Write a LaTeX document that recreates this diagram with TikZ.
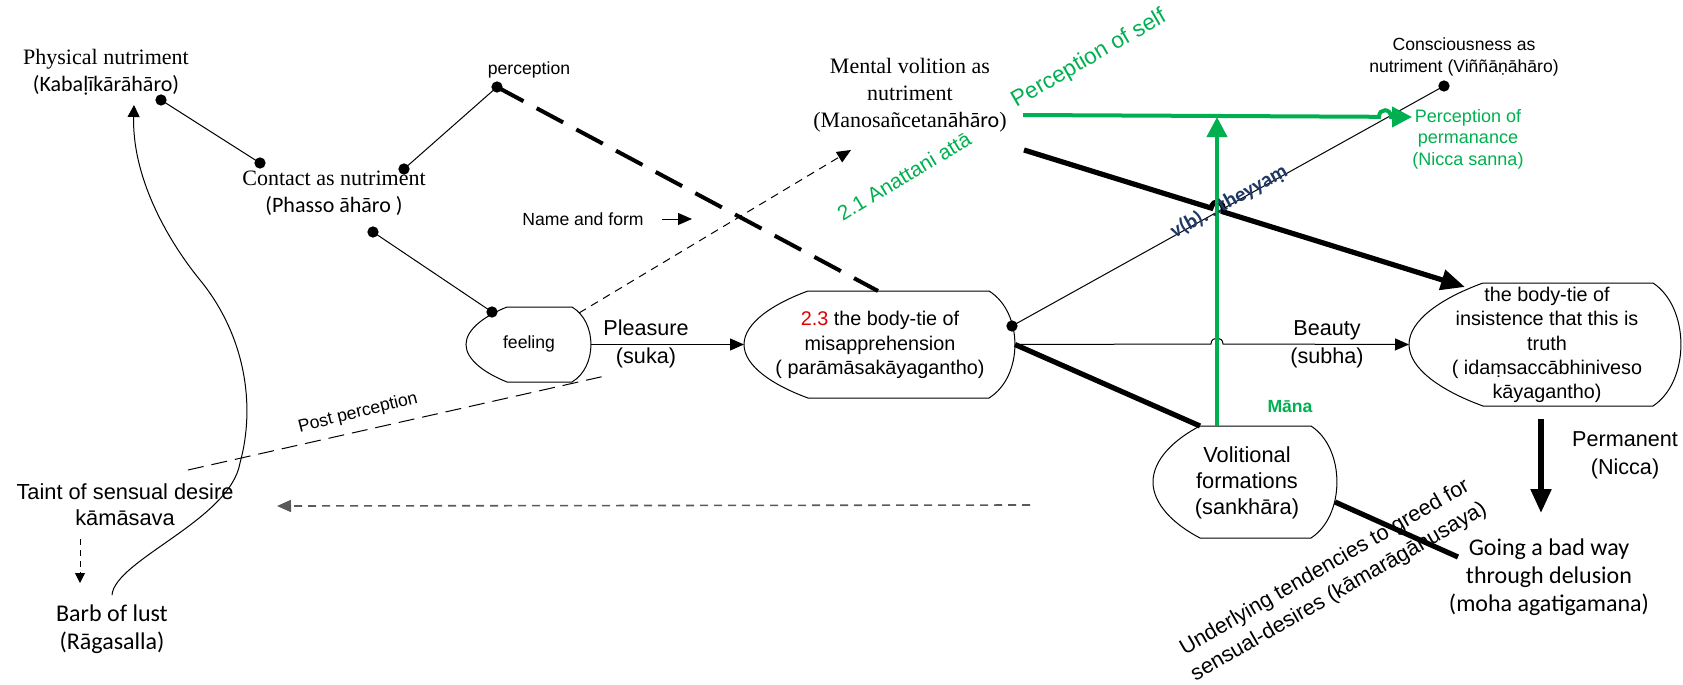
\documentclass[tikz,border=0pt]{standalone}
\usepackage{fontspec}
\setmainfont{Liberation Sans}
\newfontfamily\tnr{Liberation Serif}
\newfontfamily\calib{Carlito}
\usetikzlibrary{arrows.meta}
\definecolor{vgreen}{RGB}{0,176,80}
\definecolor{vred}{RGB}{220,0,0}
\definecolor{vblue}{RGB}{31,56,100}
\definecolor{vgray}{RGB}{90,90,90}

% outline of a gantho box: name, left point, top-left, top-right, right, top, bottom
\newcommand{\gantho}[7]{%
  \draw[link] (#3,#6) -- (#4,#6)
    .. controls ({#4+1.33*(#5-#4)},{#6+0.2*(#7-#6)}) and ({#4+1.33*(#5-#4)},{#7-0.2*(#7-#6)}) .. (#4,#7)
    -- (#3,#7)
    .. controls ({#3-0.55*(#3-#2)},{#7-0.12*(#7-#6)}) and (#2,{(#6+#7)/2+0.2*(#7-#6)}) .. (#2,{(#6+#7)/2})
    .. controls (#2,{(#6+#7)/2-0.2*(#7-#6)}) and ({#3-0.55*(#3-#2)},{#6+0.12*(#7-#6)}) .. (#3,#6) -- cycle;
  \coordinate (#1-w) at (#2,{(#6+#7)/2});
  \coordinate (#1-e) at (#5,{(#6+#7)/2});
}

\begin{document}
\begin{tikzpicture}[x=0.5pt,y=-0.5pt,
    link/.style={line width=0.5pt},
    heavy/.style={line width=2.6pt},
    gline/.style={line width=2pt, draw=vgreen},
    arr/.style={-{Triangle[length=7pt,width=6pt]}},
    bigarr/.style={-{Triangle[length=12pt,width=10pt]}},
    garr/.style={-{Triangle[length=10pt,width=10pt]}},
    lbl/.style={font=\fontsize{10.8}{14}\selectfont, align=center, inner sep=0pt},
    mlbl/.style={font=\fontsize{9.9}{12.2}\selectfont, align=center, inner sep=0pt},
    small/.style={font=\fontsize{8.8}{11}\selectfont, align=center, inner sep=0pt},
    tlbl/.style={font=\tnr\fontsize{11}{13.5}\selectfont, align=center, inner sep=0pt},
    clbl/.style={font=\calib\fontsize{12}{14}\selectfont, align=center, inner sep=0pt}]
    \useasboundingbox (0,0) rectangle (1683,685);

    \coordinate (kdot) at (161,100);
    \coordinate (cdota) at (260,163);
    \coordinate (cdotb) at (404,169);
    \coordinate (pdot) at (497,87);
    \coordinate (cdotc) at (373,232);
    \coordinate (fdot) at (492,312);
    \coordinate (mdot) at (1012,326);
    \coordinate (vdot) at (1444,86);

    \coordinate (feelne) at (579,313);
    \coordinate (nmtip) at (851,150);
    \coordinate (nfa) at (662,219);
    \coordinate (nfb) at (692,219);
    \coordinate (misaptop) at (878,291);
    \coordinate (volitnw) at (1200,426);
    \coordinate (volittop) at (1217,426);
    \coordinate (volitout) at (1335,502);
    \coordinate (goingin) at (1458,557);
    \coordinate (truthbot) at (1541,419);
    \coordinate (permtip) at (1541,513);
    \coordinate (truthin) at (1465,287);
    \coordinate (mvola) at (1023,115);
    \coordinate (mvolb) at (1024,150);
    \coordinate (gtip) at (1217,117);
    \coordinate (gend) at (1412,117);
    \coordinate (graya) at (1030,505);
    \coordinate (grayb) at (277,506);
    \coordinate (ppa) at (188,470);
    \coordinate (ppb) at (605,376);
    \coordinate (tainta) at (80,539);
    \coordinate (taintb) at (80,583);
    \coordinate (barbtop) at (112,595);
    \coordinate (kabtip) at (134,105);

    \gantho{feel}{466}{507}{572}{591}{307}{382}
    \gantho{misap}{744}{808}{989}{1015}{291}{398}
    \gantho{truth}{1409}{1483}{1653}{1681}{283}{406}
    \gantho{volit}{1153}{1200}{1311}{1337}{426}{538}

    \draw[link] (kdot) -- (cdota);
    \draw[link] (cdotb) -- (pdot);
    \draw[link] (cdotc) -- (fdot);
    \draw[line width=2pt, dash pattern=on 15pt off 7.5pt] (pdot) -- (misaptop);
    \draw[link, dash pattern=on 4pt off 3pt, arr] (feelne) -- (nmtip);
    \draw[link, arr] (nfa) -- (nfb);
    \draw[link, arr] (feel-e) -- (misap-w);
    \draw[link, arr] (misap-e) -- (1211,344) .. controls (1211,336) and (1223,336) .. (1223,344) -- (truth-w);
    \draw[link] (mdot) -- (vdot);
    \draw[heavy] (misap-e) -- (volitnw);
    \draw[heavy, bigarr] (mvolb) -- (1211,208) .. controls (1213.4,198) and (1225.4,201.5) .. (1223,211.8) -- (truthin);
    \draw[heavy, bigarr] (truthbot) -- (permtip);
    \draw[heavy] (volitout) -- (goingin);
    \draw[vgray, line width=0.8pt, dash pattern=on 4pt off 3pt, arr] (graya) -- (grayb);
    \draw[link, dash pattern=on 8pt off 4pt] (ppa) -- (ppb);
    \draw[link, dash pattern=on 3pt off 2.5pt, -{Triangle[length=5pt,width=5pt]}] (tainta) -- (taintb);
    \draw[link, -{Triangle[length=6pt,width=6pt]}] (barbtop) .. controls (115,560) and (230,520) .. (240,463)
        .. controls (256,405) and (245,335) .. (200,280) .. controls (165,237) and (132,175) .. (kabtip);

    \draw[gline, garr] (volittop) -- (gtip);
    \draw[gline, garr] (mvola) -- (1379,116.8) .. controls (1379,108) and (1391,108) .. (1391,117) -- (gend);

    \foreach \n in {kdot, cdota, cdotb, pdot, cdotc, fdot, mdot, vdot}
        \node at (\n)[circle,fill,inner sep=2pt]{};

    \node[tlbl] (phys) at (106,72) {Physical nutriment\\{\calib (Kabaḷīkārāhāro)}};
    \node[tlbl] (contact) at (334,193) {Contact as nutriment\\{\calib (Phasso āhāro )}};
    \node[small] (percep) at (529,70) {perception};
    \node[tlbl] (mvol) at (910,95) {Mental volition as\\nutriment\\(Manosañcetan{\calib āhāro})};
    \node[small] (consc) at (1464,57) {Consciousness as\\nutriment (Viññāṇāhāro)};
    \node[small] (nameform) at (583,219) {Name and form};
    \node[small] (feeling) at (529,344) {feeling};
    \node[lbl] (pleasure) at (646,344) {Pleasure\\(suka)};
    \node[mlbl] (misap) at (880,345) {{\color{vred}2.3} the body-tie of\\misapprehension\\( parāmāsakāyagantho)};
    \node[lbl] (beauty) at (1327,344) {Beauty\\(subha)};
    \node[mlbl] (truth) at (1547,345) {the body-tie of\\insistence that this is\\truth\\( idaṃsaccābhiniveso\\kāyagantho)};
    \node[lbl, font=\fontsize{10.9}{13}\selectfont] (volit) at (1247,483) {Volitional\\formations\\(sankhāra)};
    \node[small, text=vgreen, font=\bfseries\fontsize{8.8}{11}\selectfont] (mana) at (1290,407) {Māna};
    \node[lbl] (perm) at (1625,455) {Permanent\\(Nicca)};
    \node[clbl] (going) at (1549,577) {Going a bad way\\through delusion\\(moha agatigamana)};
    \node[lbl, rotate=30] (under) at (1332,580) {Underlying tendencies to greed for\\sensual-desires (kāmarāgānusaya)};
    \node[lbl, font=\fontsize{10.9}{13}\selectfont] (taint) at (125,505) {Taint of sensual desire\\kāmāsava};
    \node[clbl] (barb) at (112,629) {Barb of lust\\(Rāgasalla)};
    \node[small, rotate=14] (postperc) at (358,413) {Post perception};
    \node[lbl, text=vgreen, font=\fontsize{11.3}{14}\selectfont, rotate=30] (selfperc) at (1089,59) {Perception of self};
    \node[lbl, text=vgreen, font=\fontsize{10.4}{13}\selectfont, rotate=31] (anattani) at (904,176) {2.1 Anattani attā};
    \node[small, text=vgreen, font=\fontsize{9}{10.8}\selectfont] (nicca) at (1468,139) {Perception of\\permanance\\(Nicca sanna)};
    \node[small, text=vblue, font=\calib\bfseries\fontsize{10.5}{12}\selectfont, rotate=29] (vb) at (1229,202) {v(b).\,..theyyaṃ};
\end{tikzpicture}
\end{document}
